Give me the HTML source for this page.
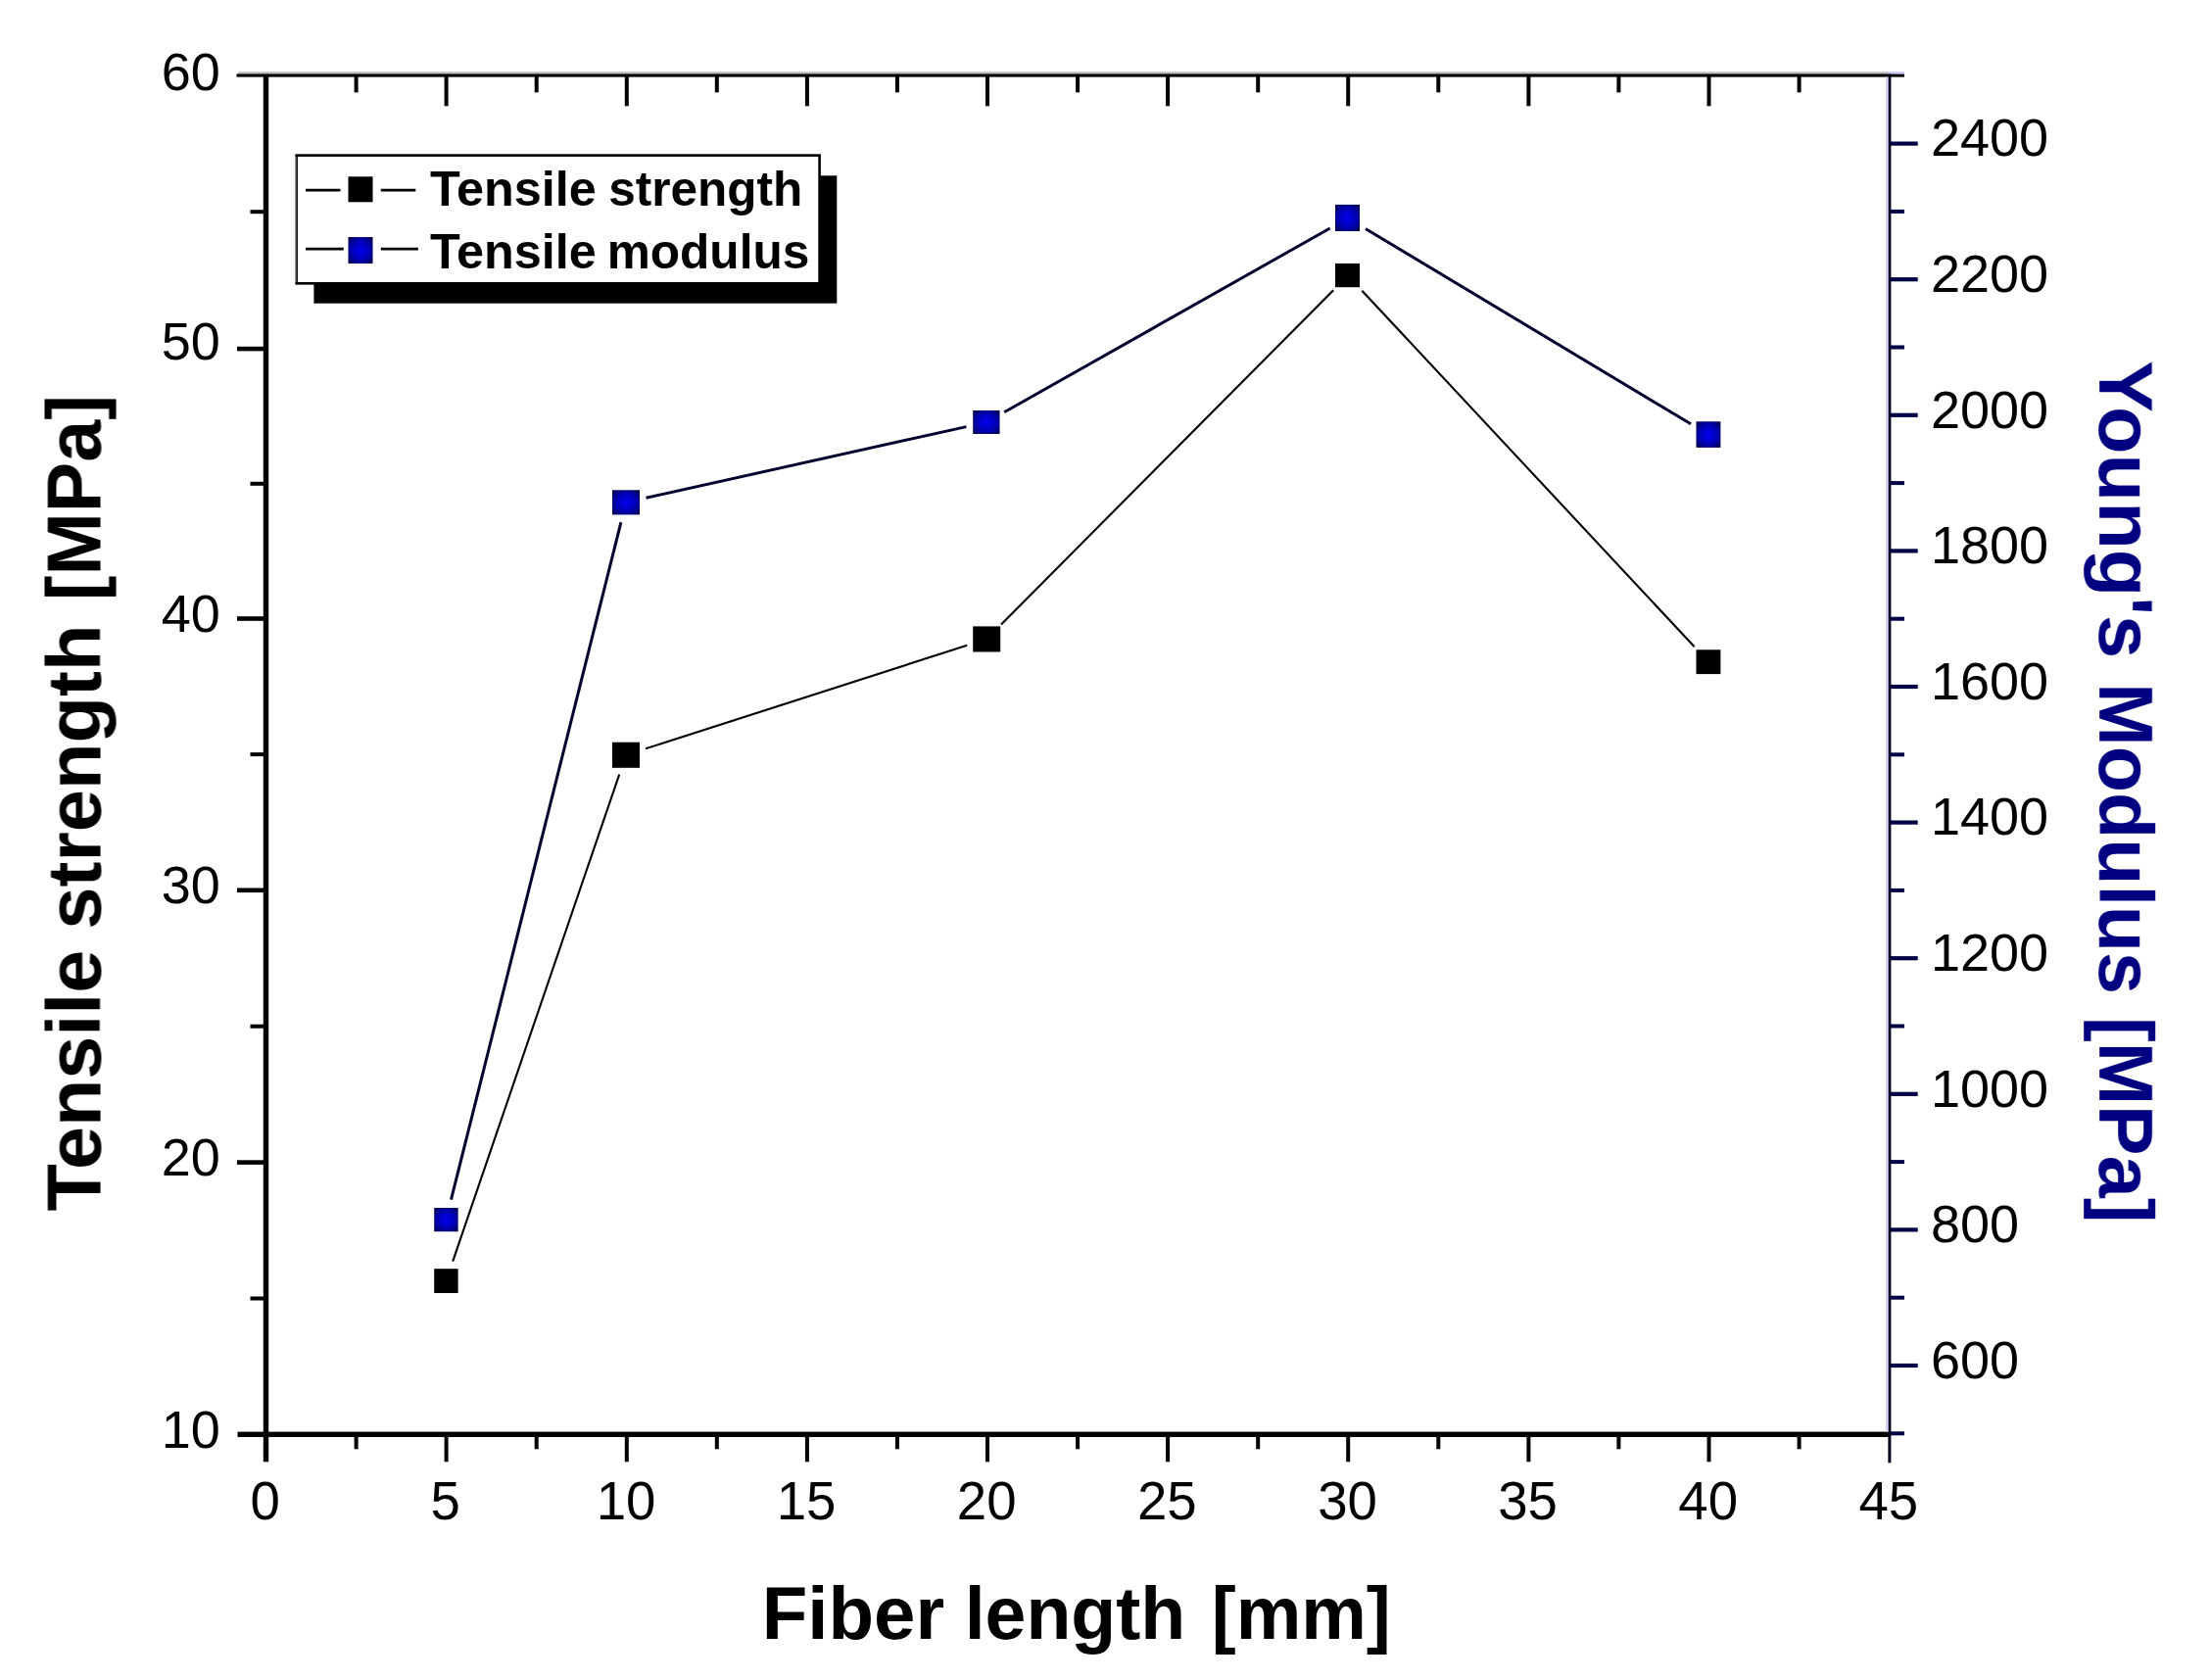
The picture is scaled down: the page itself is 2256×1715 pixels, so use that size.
<!DOCTYPE html>
<html lang="en"><head><meta charset="utf-8"><title>Tensile strength and Young's modulus vs fiber length</title>
<style>html,body{margin:0;padding:0;background:#fff}body{width:2256px;height:1715px;overflow:hidden}svg{display:block}text{font-family:"Liberation Sans",Arial,sans-serif}.tk{font-size:54px;fill:#000}.ttl{font-size:78px;font-weight:bold}.lg{font-size:50px;font-weight:bold;fill:#000}</style></head><body>
<svg width="2256" height="1715" viewBox="0 0 2256 1715">
<defs><radialGradient id="bg" cx="50%" cy="50%" r="70%"><stop offset="0" stop-color="#0000ee"/><stop offset="0.55" stop-color="#0000b0"/><stop offset="1" stop-color="#00003c"/></radialGradient></defs>
<rect width="2256" height="1715" fill="#fff"/>
<filter id="soft" x="0" y="0" width="2256" height="1715" filterUnits="userSpaceOnUse"><feGaussianBlur stdDeviation="0.65"/></filter>
<g filter="url(#soft)">
<g id="axes" fill="#000">
<rect x="243" y="73.1" width="1685.6" height="2.5" fill="#c4c4c4"/>
<rect x="241.5" y="75.4" width="1687.1" height="3.2"/>
<rect x="242.5" y="1461.6" width="1686.1" height="5.4"/>
<rect x="268.8" y="76.3" width="5.4" height="1416.0"/>
<rect x="361.6" y="76.3" width="4" height="18"/>
<rect x="361.6" y="1464.3" width="4" height="15"/>
<rect x="453.6" y="76.3" width="4" height="32"/>
<rect x="453.6" y="1464.3" width="4" height="28"/>
<rect x="545.7" y="76.3" width="4" height="18"/>
<rect x="545.7" y="1464.3" width="4" height="15"/>
<rect x="637.8" y="76.3" width="4" height="32"/>
<rect x="637.8" y="1464.3" width="4" height="28"/>
<rect x="729.8" y="76.3" width="4" height="18"/>
<rect x="729.8" y="1464.3" width="4" height="15"/>
<rect x="821.9" y="76.3" width="4" height="32"/>
<rect x="821.9" y="1464.3" width="4" height="28"/>
<rect x="913.9" y="76.3" width="4" height="18"/>
<rect x="913.9" y="1464.3" width="4" height="15"/>
<rect x="1006.0" y="76.3" width="4" height="32"/>
<rect x="1006.0" y="1464.3" width="4" height="28"/>
<rect x="1098.1" y="76.3" width="4" height="18"/>
<rect x="1098.1" y="1464.3" width="4" height="15"/>
<rect x="1190.1" y="76.3" width="4" height="32"/>
<rect x="1190.1" y="1464.3" width="4" height="28"/>
<rect x="1282.2" y="76.3" width="4" height="18"/>
<rect x="1282.2" y="1464.3" width="4" height="15"/>
<rect x="1374.2" y="76.3" width="4" height="32"/>
<rect x="1374.2" y="1464.3" width="4" height="28"/>
<rect x="1466.3" y="76.3" width="4" height="18"/>
<rect x="1466.3" y="1464.3" width="4" height="15"/>
<rect x="1558.4" y="76.3" width="4" height="32"/>
<rect x="1558.4" y="1464.3" width="4" height="28"/>
<rect x="1650.4" y="76.3" width="4" height="18"/>
<rect x="1650.4" y="1464.3" width="4" height="15"/>
<rect x="1742.5" y="76.3" width="4" height="32"/>
<rect x="1742.5" y="1464.3" width="4" height="28"/>
<rect x="1834.6" y="76.3" width="4" height="18"/>
<rect x="1834.6" y="1464.3" width="4" height="15"/>
<rect x="255.5" y="1323.5" width="16" height="4"/>
<rect x="242" y="1184.3" width="30" height="4.6"/>
<rect x="255.5" y="1045.7" width="16" height="4"/>
<rect x="242" y="906.5" width="30" height="4.6"/>
<rect x="255.5" y="768.1" width="16" height="4"/>
<rect x="242" y="629.2" width="30" height="4.6"/>
<rect x="255.5" y="491.8" width="16" height="4"/>
<rect x="242" y="353.8" width="30" height="4.6"/>
<rect x="255.5" y="214.2" width="16" height="4"/>
</g>
<g id="raxis" fill="#000044">
<rect x="1927.4" y="75.0" width="3" height="1418.3" fill="#00001c"/>
<rect x="1929" y="75.4" width="15" height="3.2" fill="#000"/>
<rect x="1927" y="73.2" width="17" height="2.2" fill="#c8c8f6"/>
<rect x="1930" y="1461.3" width="14" height="4"/>
<rect x="1930" y="1391.9" width="27.7" height="4.2"/>
<rect x="1930" y="1322.7" width="14" height="4"/>
<rect x="1930" y="1253.3" width="27.7" height="4.2"/>
<rect x="1930" y="1184.1" width="14" height="4"/>
<rect x="1930" y="1114.7" width="27.7" height="4.2"/>
<rect x="1930" y="1045.5" width="14" height="4"/>
<rect x="1930" y="976.1" width="27.7" height="4.2"/>
<rect x="1930" y="906.9" width="14" height="4"/>
<rect x="1930" y="837.5" width="27.7" height="4.2"/>
<rect x="1930" y="768.3" width="14" height="4"/>
<rect x="1930" y="698.9" width="27.7" height="4.2"/>
<rect x="1930" y="629.7" width="14" height="4"/>
<rect x="1930" y="560.3" width="27.7" height="4.2"/>
<rect x="1930" y="491.1" width="14" height="4"/>
<rect x="1930" y="421.7" width="27.7" height="4.2"/>
<rect x="1930" y="352.5" width="14" height="4"/>
<rect x="1930" y="283.1" width="27.7" height="4.2"/>
<rect x="1930" y="213.9" width="14" height="4"/>
<rect x="1930" y="144.5" width="27.7" height="4.2"/>
</g>
<rect x="1925" y="78.6" width="2.5" height="1383.0" fill="#d2d2f8"/>
<g class="tk" text-anchor="end">
<text x="224.8" y="1477.6">10</text>
<text x="224.8" y="1199.7">20</text>
<text x="224.8" y="922.0">30</text>
<text x="224.8" y="644.5">40</text>
<text x="224.8" y="366.7">50</text>
<text x="224.8" y="91.8">60</text>
</g>
<g class="tk" text-anchor="middle" style="font-size:54.6px">
<text x="270.7" y="1551">0</text>
<text x="454.8" y="1551">5</text>
<text x="639.0" y="1551">10</text>
<text x="823.1" y="1551">15</text>
<text x="1007.2" y="1551">20</text>
<text x="1191.3" y="1551">25</text>
<text x="1375.5" y="1551">30</text>
<text x="1559.6" y="1551">35</text>
<text x="1743.7" y="1551">40</text>
<text x="1927.8" y="1551">45</text>
</g>
<g class="tk" text-anchor="start">
<text x="1971" y="1406.7">600</text>
<text x="1971" y="1268.1">800</text>
<text x="1971" y="1129.5">1000</text>
<text x="1971" y="990.9">1200</text>
<text x="1971" y="852.3">1400</text>
<text x="1971" y="713.7">1600</text>
<text x="1971" y="575.1">1800</text>
<text x="1971" y="436.5">2000</text>
<text x="1971" y="297.9">2200</text>
<text x="1971" y="159.3">2400</text>
</g>
<text class="ttl" style="font-size:78.3px" fill="#000" transform="translate(102.5 0) rotate(-90)"><tspan x="-1236.6" textLength="267.0" lengthAdjust="spacingAndGlyphs">Tensile</tspan> <tspan x="-948.7" textLength="311.1" lengthAdjust="spacingAndGlyphs">strength</tspan> <tspan x="-613.3" textLength="210.2" lengthAdjust="spacingAndGlyphs">[MPa]</tspan></text>
<text class="ttl" style="font-size:78.3px" fill="#000080" transform="translate(2143.2 0) rotate(90)"><tspan x="368.0" textLength="304.3" lengthAdjust="spacingAndGlyphs">Young's</tspan> <tspan x="697.3" textLength="317.8" lengthAdjust="spacingAndGlyphs">Modulus</tspan> <tspan x="1038.0" textLength="210.4" lengthAdjust="spacingAndGlyphs">[MPa]</tspan></text>
<text class="ttl" style="font-size:76px" fill="#000" transform="translate(0 1673.3)"><tspan x="777.8" textLength="186.4" lengthAdjust="spacingAndGlyphs">Fiber</tspan> <tspan x="984.7" textLength="225.5" lengthAdjust="spacingAndGlyphs">length</tspan> <tspan x="1236.8" textLength="183.0" lengthAdjust="spacingAndGlyphs">[mm]</tspan></text>
<g id="series-strength" stroke="#000" stroke-width="2.1" fill="#000">
<line x1="462.2" y1="1287.7" x2="632.2" y2="790.6"/>
<line x1="659.0" y1="764.3" x2="987.2" y2="658.8"/>
<line x1="1022.0" y1="637.5" x2="1361.2" y2="296.2"/>
<line x1="1390.3" y1="296.7" x2="1729.7" y2="660.3"/>
<rect x="443.2" y="1295.2" width="24.4" height="24.8" stroke="none"/>
<rect x="625.0" y="757.7" width="28.0" height="26.1" stroke="none"/>
<rect x="993.2" y="639.4" width="28.0" height="26.1" stroke="none"/>
<rect x="1363.0" y="268.9" width="25.0" height="24.3" stroke="none"/>
<rect x="1731.5" y="663.3" width="24.9" height="24.8" stroke="none"/>
</g>
<g id="series-modulus" stroke="#00002e" stroke-width="3">
<line x1="460.5" y1="1224.7" x2="633.9" y2="533.2"/>
<line x1="659.5" y1="508.2" x2="986.4" y2="435.6"/>
<line x1="1025.2" y1="420.7" x2="1357.7" y2="233.0"/>
<line x1="1394.0" y1="233.5" x2="1726.0" y2="432.8"/>
<rect x="443.2" y="1233.0" width="24.4" height="24.2" stroke="none" fill="url(#bg)"/>
<rect x="625.0" y="500.3" width="28.0" height="25.1" stroke="none" fill="url(#bg)"/>
<rect x="993.2" y="419.0" width="27.3" height="24.0" stroke="none" fill="url(#bg)"/>
<rect x="1363.0" y="208.9" width="25.0" height="27.1" stroke="none" fill="url(#bg)"/>
<rect x="1731.5" y="430.3" width="24.9" height="26.6" stroke="none" fill="url(#bg)"/>
</g>
<g id="legend">
<rect x="320.4" y="179.3" width="533.9" height="130.4" fill="#000"/>
<rect x="302.6" y="158.6" width="534" height="130.7" fill="#fff" stroke="#000" stroke-width="2.6"/>
<rect x="301.2" y="160" width="1.3" height="128" fill="#fff" opacity="0.55"/>
<g stroke="#000" stroke-width="2.8">
<line x1="312" y1="194.1" x2="347.5" y2="194.1"/><line x1="388.8" y1="194.1" x2="424.3" y2="194.1"/>
<line x1="312" y1="254.1" x2="350.8" y2="254.1"/><line x1="388.8" y1="254.1" x2="426.8" y2="254.1"/>
</g>
<rect x="355.5" y="180.3" width="25" height="26" fill="#000"/>
<rect x="355.5" y="242" width="25" height="27" fill="url(#bg)"/>
<text class="lg" transform="translate(0 209.8)"><tspan x="439.1" textLength="169.7" lengthAdjust="spacingAndGlyphs">Tensile</tspan> <tspan x="621.2" textLength="198.1" lengthAdjust="spacingAndGlyphs">strength</tspan></text>
<text class="lg" transform="translate(0 273.8)"><tspan x="439.1" textLength="169.7" lengthAdjust="spacingAndGlyphs">Tensile</tspan> <tspan x="619.7" textLength="206.6" lengthAdjust="spacingAndGlyphs">modulus</tspan></text>
</g>
</g>
</svg></body></html>
